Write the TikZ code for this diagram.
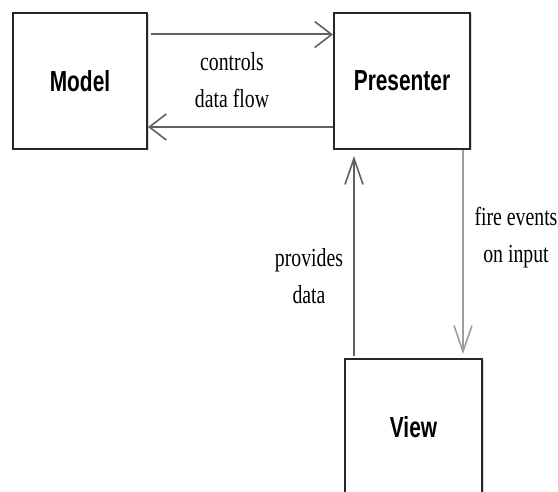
\documentclass[tikz,border=0pt]{standalone}
\usepackage{fontspec}
\usetikzlibrary{arrows.meta,shadows}
\newfontfamily\boxfont[FakeStretch=0.72]{Liberation Sans}
\newfontfamily\lblfont[FakeStretch=0.76]{Liberation Serif}
\tikzset{
  compbox/.style={draw=black!85, line width=2pt, fill=white, inner sep=0pt,
    minimum height=136pt, font=\boxfont\bfseries\fontsize{29}{35}\selectfont,
    drop shadow={shadow xshift=1.5pt, shadow yshift=-1.5pt, fill=black!30, opacity=0.5}},
  lbl/.style={inner sep=0pt, align=center, text=black, font=\lblfont\fontsize{26}{37}\selectfont},
  harr/.style={draw=black!62, line width=2pt, -{Straight Barb[length=17pt,width=26pt,line width=1.6pt]}},
  varr/.style={draw=black!62, line width=2pt, -{Straight Barb[length=26pt,width=18pt,line width=1.6pt]}},
}
\begin{document}
\begin{tikzpicture}[x=1pt,y=-1pt]
\useasboundingbox (0,0) rectangle (558,492);
\clip (0,0) rectangle (558,492);
\node[compbox, minimum width=134pt] (model) at (80,81) {Model};
\node[compbox, minimum width=136pt] (presenter) at (402,81) {Presenter};
\node[compbox, minimum width=137pt] (view) at (413.5,427) {View};
\draw[harr, shorten <=3pt] ([yshift=46.5pt]model.east) -- ([yshift=46.5pt]presenter.west);
\draw[harr] ([yshift=-46pt]presenter.west) -- ([yshift=-46pt]model.east);
\draw[varr, shorten >=6pt, shorten <=2pt] ([xshift=-59.5pt]view.north) -- ([xshift=-48pt]presenter.south);
\draw[varr, draw=black!38, shorten >=4pt] ([xshift=61pt]presenter.south) -- ([xshift=49.5pt]view.north);
\node[lbl] (l1) at (232,80) {controls\\data flow};
\node[lbl] (l2) at (309,276) {provides\\data};
\node[lbl] (l3) at (516,238) {fire events\\on input};
\end{tikzpicture}
\end{document}
